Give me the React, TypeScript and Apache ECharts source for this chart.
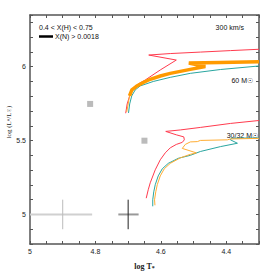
import React, { useEffect, useRef } from 'react';
import * as echarts from 'echarts';

// HR diagram tracks, [log T, log L]
const red60 = [[4.7075, 5.685], [4.703, 5.748], [4.6953, 5.802], [4.6845, 5.849], [4.6692, 5.883], [4.6478, 5.91], [4.6018, 5.978], [4.5528, 6.045], [4.6371, 6.079], [4.5712, 6.089], [4.4793, 6.099], [4.3874, 6.109], [4.3, 6.118]];
const orange60Thin = [[4.7044, 5.694], [4.6998, 5.748], [4.6959, 5.802]];
const orange60Thick = [[4.6959, 5.802], [4.6885, 5.843], [4.6732, 5.87], [4.6539, 5.893], [4.6325, 5.915], [4.6018, 5.937], [4.5712, 5.955], [4.51, 5.982], [4.464, 6.001], [4.5145, 6.025], [4.4181, 6.028], [4.3, 6.034]];
const teal60 = [[4.6989, 5.687], [4.6953, 5.748], [4.6891, 5.802], [4.6784, 5.843], [4.6631, 5.87], [4.6233, 5.9], [4.5712, 5.928], [4.51, 5.955], [4.4181, 5.981], [4.3, 6.005]];

const red30 = [[4.6447, 5.11], [4.6386, 5.167], [4.6325, 5.214], [4.6172, 5.302], [4.6018, 5.37], [4.5865, 5.417], [4.5712, 5.451], [4.5528, 5.474], [4.5345, 5.488], [4.5283, 5.505], [4.5299, 5.525], [4.5528, 5.539], [4.585, 5.562], [4.5406, 5.572], [4.4793, 5.589], [4.3874, 5.616], [4.3, 5.636]];
const orange30 = [[4.618, 5.062], [4.6193, 5.099], [4.6156, 5.153], [4.611, 5.201], [4.6018, 5.261], [4.5896, 5.309], [4.5712, 5.346], [4.5406, 5.383], [4.51, 5.407], [4.4916, 5.417], [4.5345, 5.447], [4.5253, 5.474], [4.51, 5.491], [4.4885, 5.493], [4.4793, 5.501], [4.3966, 5.505], [4.3874, 5.511], [4.3, 5.515]];
const teal30 = [[4.6248, 5.055], [4.6248, 5.099], [4.6217, 5.153], [4.6172, 5.201], [4.608, 5.261], [4.5957, 5.309], [4.5773, 5.346], [4.5467, 5.38], [4.51, 5.4], [4.4793, 5.426], [4.4181, 5.459], [4.366, 5.482], [4.3874, 5.505], [4.3844, 5.516], [4.3, 5.518]];

const observed = [[4.8162, 5.748], [4.6502, 5.4993]];

const errLightH = [[5.0, 5.0], [4.81, 5.0]];
const errLightV = [[4.9, 4.9], [4.9, 5.1]];
const errDarkH = [[4.73, 5.0], [4.668, 5.0]];
const errDarkV = [[4.7, 4.9], [4.7, 5.1]];

const xLabels = [4.4, 4.6, 4.8, 5];
const yLabels = [5, 5.5, 6];

const RED = '#ff3b4e';
const ORANGE = '#ff9a00';
const ORANGE_THIN = '#ffad33';
const TEAL = '#2aa6a0';
const FONT = 'Liberation Sans';

export default function App() {
  const ref = useRef<HTMLDivElement>(null);
  useEffect(() => {
    const chart = echarts.init(ref.current!, null, { renderer: 'svg' });
    const axisLine = { lineStyle: { color: '#555', width: 1.5 } };
    const tick = { inside: true, length: 3, lineStyle: { color: '#555', width: 1 } };
    const isLab = (v: number, arr: number[]) => arr.some((a) => Math.abs(a - v) < 1e-6);
    const baseX = {
      type: 'value' as const,
      min: 4.3,
      max: 5,
      interval: 0.05,
      inverse: true,
      splitLine: { show: false },
      axisLine,
      axisTick: tick,
    };
    const baseY = {
      type: 'value' as const,
      min: 4.8,
      max: 6.35,
      interval: 0.1,
      splitLine: { show: false },
      axisLine,
      axisTick: tick,
    };
    const line = (data: number[][], color: string, width = 1, z = 2) => ({
      type: 'line' as const,
      data,
      showSymbol: false,
      symbol: 'none',
      lineStyle: { color, width, join: 'miter' },
      z,
      silent: true,
    });
    chart.setOption({
      animation: false,
      grid: { left: 30, right: 15, top: 15, bottom: 30, containLabel: false, outerBoundsMode: 'none' },
      xAxis: [
        {
          ...baseX,
          position: 'bottom',
          name: 'log T{s|*}',
          nameLocation: 'middle',
          nameGap: 17,
          nameTextStyle: {
            fontFamily: 'Liberation Serif',
            fontWeight: 'bold',
            fontSize: 8,
            color: '#222',
            rich: { s: { fontSize: 6, fontFamily: 'Liberation Serif', fontWeight: 'bold', padding: [4, 0, 0, 0] } },
          },
          axisLabel: {
            margin: 4,
            fontSize: 7,
            fontFamily: FONT,
            color: '#222',
            formatter: (v: number) => (isLab(v, xLabels) ? String(Math.round(v * 10) / 10) : ''),
          },
        },
        { ...baseX, position: 'top', axisLabel: { show: false } },
      ],
      yAxis: [
        {
          ...baseY,
          position: 'left',
          axisLabel: {
            margin: 4,
            fontSize: 7,
            fontFamily: FONT,
            color: '#222',
            formatter: (v: number) => (isLab(v, yLabels) ? String(Math.round(v * 10) / 10) : ''),
          },
        },
        { ...baseY, position: 'right', axisLabel: { show: false } },
      ],
      series: [
        line(errLightH, '#d0d0d0', 2, 1),
        line(errLightV, '#bbbbbb', 1, 1),
        line(errDarkH, '#999999', 2, 1),
        line(errDarkV, '#222222', 1, 1),
        {
          type: 'scatter',
          data: observed,
          symbol: 'rect',
          symbolSize: 6,
          itemStyle: { color: '#aaaaaa' },
          silent: true,
        },
        line(red60, RED),
        line(teal60, TEAL),
        line(orange60Thin, ORANGE_THIN),
        line(orange60Thick, ORANGE, 3.5, 3),
        line(red30, RED),
        line(teal30, TEAL),
        line(orange30, ORANGE_THIN),
      ],
      graphic: [
        {
          type: 'text',
          x: 9,
          y: 122,
          rotation: Math.PI / 2,
          style: {
            text: 'log (L{s|*}/L{s|☉})',
            fontSize: 7,
            fontFamily: 'Liberation Serif',
            fill: '#222',
            align: 'center',
            verticalAlign: 'middle',
            rich: { s: { fontSize: 5, fontFamily: 'DejaVu Sans', fill: '#222' } },
          },
        },
        { type: 'text', x: 39, y: 27, style: { text: '0.4 < X(H) < 0.75', fontSize: 7, fontFamily: FONT, fill: '#111', verticalAlign: 'middle' } },
        { type: 'line', shape: { x1: 39, y1: 36.5, x2: 53, y2: 36.5 }, style: { stroke: '#000', lineWidth: 2.5 } },
        { type: 'text', x: 55, y: 36.5, style: { text: 'X(N) > 0.0018', fontSize: 7, fontFamily: FONT, fill: '#111', verticalAlign: 'middle' } },
        { type: 'text', x: 244, y: 27, style: { text: '300 km/s', fontSize: 7, fontFamily: FONT, fill: '#111', align: 'right', verticalAlign: 'middle' } },
        { type: 'text', x: 253, y: 80, style: { text: '60 M☉', fontSize: 7, fontFamily: FONT, fill: '#111', align: 'right', verticalAlign: 'middle' } },
        { type: 'text', x: 258, y: 135, style: { text: '30/32 M☉', fontSize: 7, fontFamily: FONT, fill: '#111', align: 'right', verticalAlign: 'middle' } },
      ],
    });
    return () => chart.dispose();
  }, []);
  return <div ref={ref} style={{ position: 'fixed', left: 0, top: 0, width: 274, height: 274, background: '#fff' }} />;
}
